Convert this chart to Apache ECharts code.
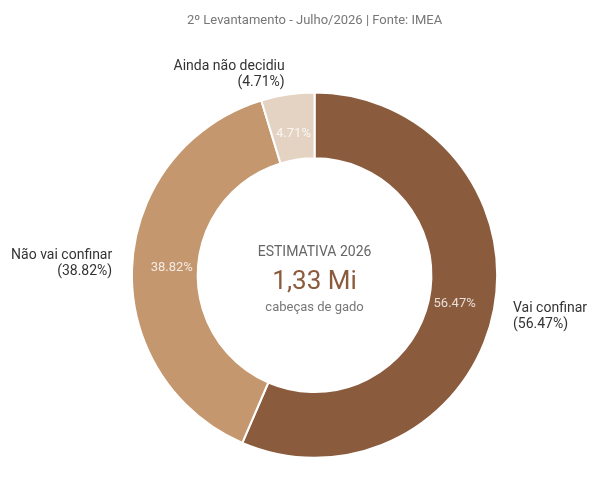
<!DOCTYPE html>
<html lang="pt">
<head>
    <meta charset="UTF-8">
    <title>Confinamento 2026</title>
    <script src="https://cdn.jsdelivr.net/npm/echarts@6/dist/echarts.min.js"></script>
    <style>
        html, body { margin: 0; padding: 0; background: #fff; }
        #main { width: 598px; height: 487px; }
    </style>
</head>
<body>
    <div id="main"></div>
    <script>
        const categories = ['Vai confinar', 'Não vai confinar', 'Ainda não decidiu'];
        const percentages = [56.47, 38.82, 4.71];
        const sliceColors = ['#8B5B3E', '#C4976F', '#E4D3C2'];

        const titleText = '2º Levantamento - Julho/2026 | Fonte: IMEA';
        const centerLines = ['ESTIMATIVA 2026', '1,33 Mi', 'cabeças de gado'];

        const font = 'Roboto, "Noto Sans", sans-serif';
        const cx = 598 * 0.526;

        const pieData = categories.map((name, i) => ({
            name: name,
            value: percentages[i],
            itemStyle: { color: sliceColors[i] }
        }));

        const baseSeries = {
            type: 'pie',
            center: ['52.6%', '56.5%'],
            radius: ['48%', '75%'],
            startAngle: 90,
            clockwise: true,
            avoidLabelOverlap: false,
            silent: true,
            itemStyle: { borderColor: '#fff', borderWidth: 2 },
            data: pieData
        };

        const option = {
            animation: false,
            graphic: [
                {
                    type: 'text',
                    x: cx, y: 21,
                    style: { text: titleText, fill: '#777', font: '13px ' + font, align: 'center', verticalAlign: 'middle' }
                },
                {
                    type: 'text',
                    x: cx, y: 252,
                    style: { text: centerLines[0], fill: '#666', font: '14px ' + font, align: 'center', verticalAlign: 'middle' }
                },
                {
                    type: 'text',
                    x: cx, y: 282,
                    style: { text: centerLines[1], fill: '#8B5B3E', font: '26px ' + font, align: 'center', verticalAlign: 'middle' }
                },
                {
                    type: 'text',
                    x: cx, y: 308,
                    style: { text: centerLines[2], fill: '#777', font: '13px ' + font, align: 'center', verticalAlign: 'middle' }
                }
            ],
            series: [
                Object.assign({}, baseSeries, {
                    label: {
                        show: true,
                        position: 'outside',
                        formatter: p => p.name + '\n(' + p.value.toFixed(2) + '%)',
                        fontFamily: font,
                        fontSize: 14,
                        lineHeight: 16,
                        color: '#333',
                        distanceToLabelLine: 0
                    },
                    labelLine: { show: false, length: 20, length2: 0 }
                }),
                // label-only ring: transparent sectors, used to place the inner percentages
                Object.assign({}, baseSeries, {
                    radius: ['40%', '75%'],
                    itemStyle: { color: 'transparent', borderWidth: 0 },
                    data: categories.map((name, i) => ({ name: name, value: percentages[i] })),
                    label: {
                        show: true,
                        position: 'inside',
                        formatter: p => p.value.toFixed(2) + '%',
                        fontFamily: font,
                        fontSize: 13,
                        color: 'rgba(255,255,255,0.8)'
                    },
                    labelLine: { show: false }
                })
            ]
        };

        const chart = echarts.init(document.getElementById('main'));
        chart.setOption(option);
    </script>
</body>
</html>
